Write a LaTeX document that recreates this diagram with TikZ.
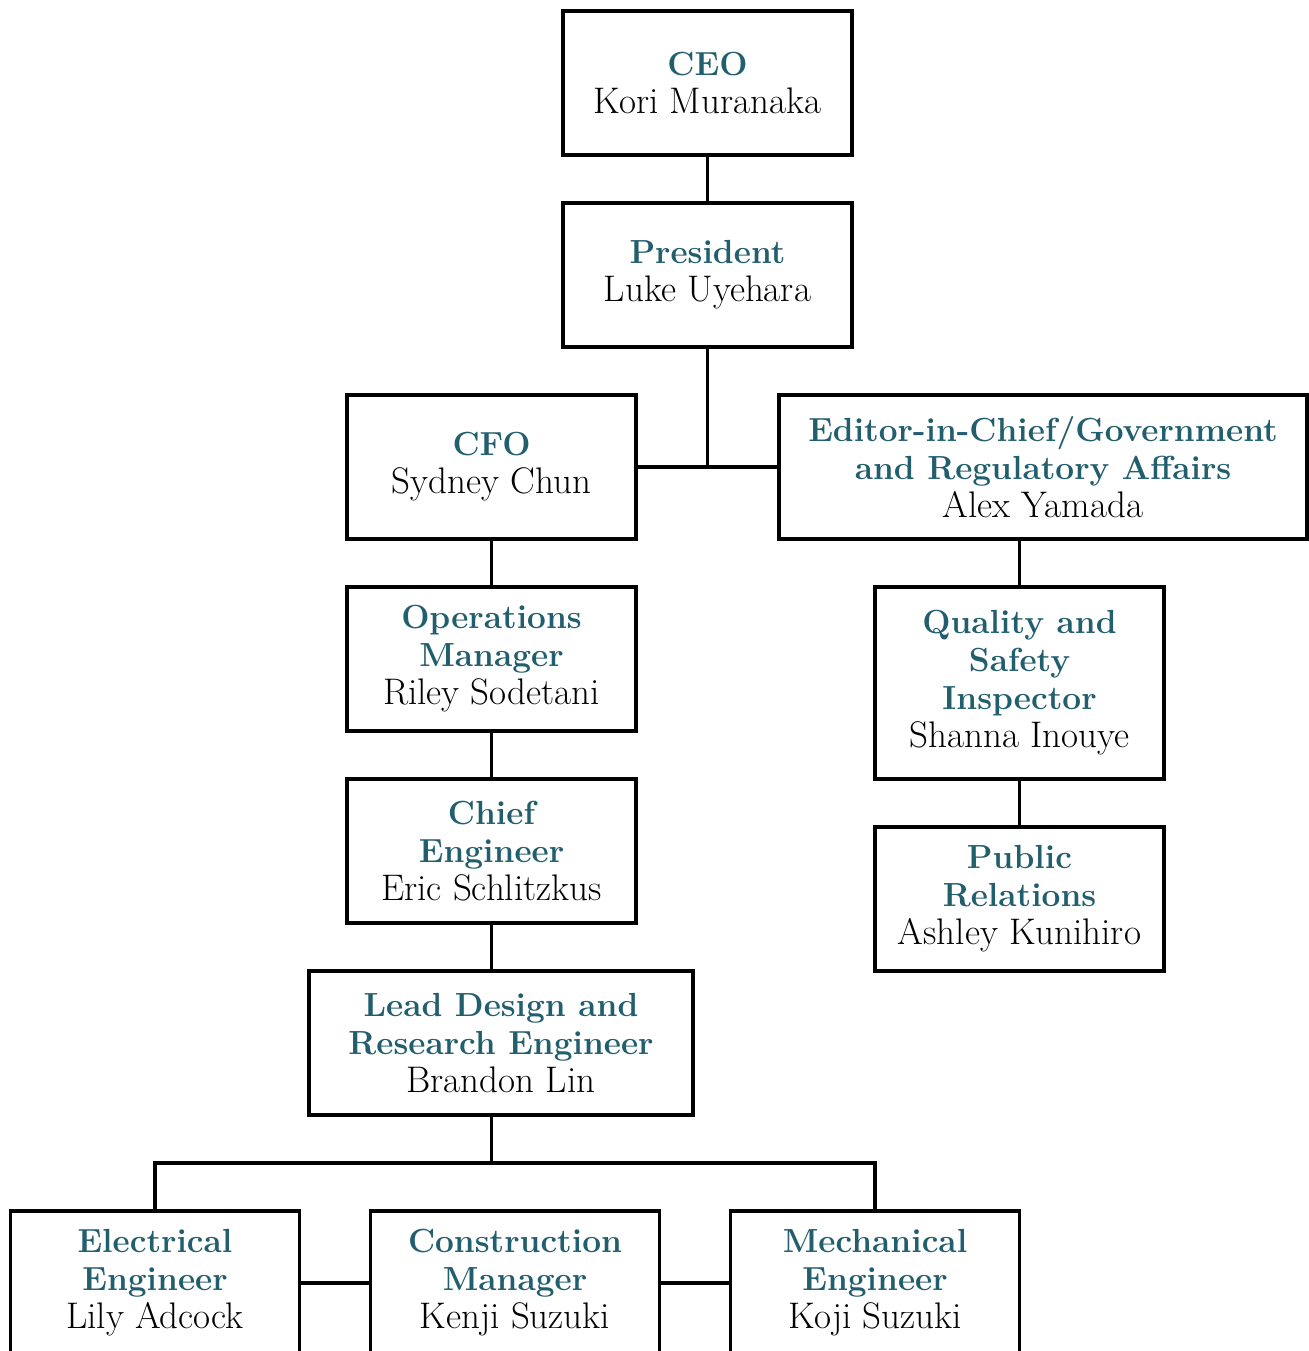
\documentclass[tikz,border=0pt]{standalone}
\definecolor{roletitle}{RGB}{33,94,110}
\tikzset{
  x=0.5pt, y=-0.5pt,
  person/.style={draw=black, line width=1.8pt, fill=white, align=center,
    minimum width=144.5pt, minimum height=72pt, inner sep=0pt,
    font=\fontsize{18.5}{19}\selectfont},
  link/.style={line width=1.8pt, line cap=rect}
}
% one line of a role title
\newcommand{\rt}[1]{{\fontsize{16.7}{19}\selectfont\bfseries\color{roletitle}#1}}
\begin{document}
\begin{tikzpicture}
\useasboundingbox (0,0) rectangle (1309,1351);
% boxes
\node[person] (ceo) at (707.5,83) {\rt{CEO}\\Kori Muranaka};
\node[person] (pres) at (707.5,275) {\rt{President}\\Luke Uyehara};
\node[person] (cfo) at (491.5,467) {\rt{CFO}\\Sydney Chun};
\node[person, minimum width=264pt] (edit) at (1043,467) {\rt{Editor-in-Chief/Government}\\\rt{and Regulatory Affairs}\\Alex Yamada};
\node[person] (ops) at (491.5,659) {\rt{Operations}\\\rt{Manager}\\Riley Sodetani};
\node[person, minimum height=96pt] (qual) at (1019.5,683) {\rt{Quality and}\\\rt{Safety}\\\rt{Inspector}\\Shanna Inouye};
\node[person] (pr) at (1019.5,899) {\rt{Public}\\\rt{Relations}\\Ashley Kunihiro};
\node[person] (chief) at (491.5,851) {\rt{Chief}\\\rt{Engineer}\\Eric Schlitzkus};
\node[person, minimum width=192pt] (lead) at (501,1043) {\rt{Lead Design and}\\\rt{Research Engineer}\\Brandon Lin};
\node[person] (elec) at (155,1283) {\rt{Electrical}\\\rt{Engineer}\\Lily Adcock};
\node[person] (cons) at (515,1283) {\rt{Construction}\\\rt{Manager}\\Kenji Suzuki};
\node[person] (mech) at (875,1283) {\rt{Mechanical}\\\rt{Engineer}\\Koji Suzuki};
% junctions
\coordinate (split) at (707.5,467);
\coordinate (team)  at (491.5,1163);
% connectors
\draw[link] (ceo.south) -- (pres.north);
\draw[link] (pres.south) -- (split);
\draw[link] (cfo.east) -- (edit.west);
\draw[link] (cfo.south) -- (ops.north);
\draw[link] (ops.south) -- (chief.north);
\draw[link] (chief.south) -- (chief.south |- lead.north);
\draw[link] (edit.south -| qual.north) -- (qual.north);
\draw[link] (qual.south) -- (pr.north);
\draw[link] (lead.south -| team) -- (team);
\draw[link] (elec.north |- team) -- (mech.north |- team);
\draw[link] (elec.north |- team) -- (elec.north);
\draw[link] (mech.north |- team) -- (mech.north);
\draw[link] (elec.east) -- (cons.west);
\draw[link] (cons.east) -- (mech.west);
\end{tikzpicture}
\end{document}
